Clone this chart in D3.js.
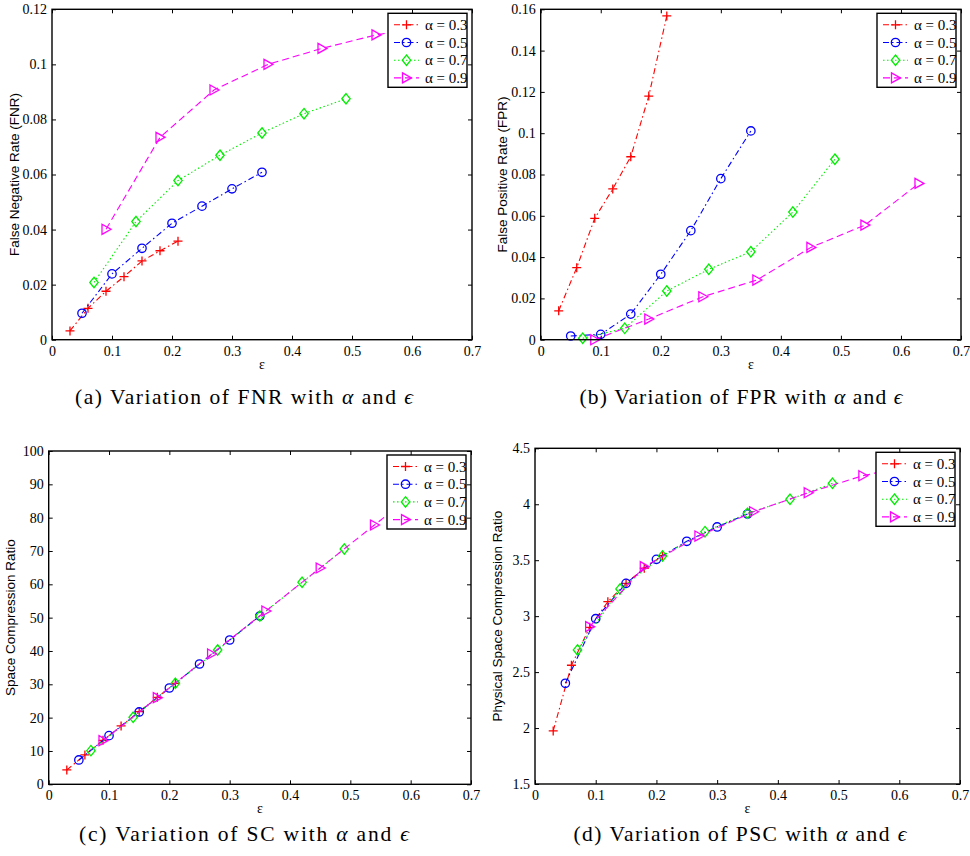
<!DOCTYPE html>
<html>
<head>
<meta charset="utf-8">
<script src="https://cdn.jsdelivr.net/npm/d3@7"></script>
<style>
  html, body { margin: 0; padding: 0; background: #fff; }
  svg { display: block; }
</style>
</head>
<body>
<svg id="fig" width="970" height="856"></svg>
<script>
// ε values sampled for each α setting
const eps03 = [0.03, 0.06, 0.09, 0.12, 0.15, 0.18, 0.21];
const eps05 = [0.05, 0.10, 0.15, 0.20, 0.25, 0.30, 0.35];
const eps07 = [0.07, 0.14, 0.21, 0.28, 0.35, 0.42, 0.49];
const eps09 = [0.09, 0.18, 0.27, 0.36, 0.45, 0.54, 0.63];

// False negative rate
const fnr03 = [0.0032, 0.0114, 0.0176, 0.0229, 0.0286, 0.0323, 0.0358];
const fnr05 = [0.0096, 0.0239, 0.0332, 0.0423, 0.0485, 0.0548, 0.0608];
const fnr07 = [0.0208, 0.0429, 0.0578, 0.0670, 0.0751, 0.0821, 0.0875];
const fnr09 = [0.0401, 0.0735, 0.0907, 0.1000, 0.1058, 0.1107, 0.1140];

// False positive rate
const fpr03 = [0.0140, 0.0349, 0.0588, 0.0730, 0.0886, 0.1180, 0.1568];
const fpr05 = [0.0018, 0.0026, 0.0124, 0.0317, 0.0528, 0.0780, 0.1011];
const fpr07 = [0.0007, 0.0055, 0.0236, 0.0341, 0.0426, 0.0618, 0.0874];
const fpr09 = [0.0000, 0.0100, 0.0208, 0.0289, 0.0447, 0.0555, 0.0757];

// Space compression ratio
const sc03 = [4.3, 8.8, 13.2, 17.5, 21.8, 26.1, 30.3];
const sc05 = [7.3, 14.6, 21.7, 28.9, 36.1, 43.3, 50.5];
const sc07 = [10.1, 20.1, 30.3, 40.3, 50.5, 60.6, 70.6];
const sc09 = [13.1, 26.0, 39.1, 52.0, 64.9, 77.8, 90.7];

// Physical space compression ratio
const psc03 = [1.974, 2.561, 2.900, 3.129, 3.293, 3.428, 3.540];
const psc05 = [2.400, 2.977, 3.293, 3.508, 3.669, 3.797, 3.913];
const psc07 = [2.698, 3.243, 3.538, 3.755, 3.919, 4.044, 4.187];
const psc09 = [2.906, 3.442, 3.716, 3.933, 4.103, 4.255, 4.360];

const seriesLabels = ["α = 0.3", "α = 0.5", "α = 0.7", "α = 0.9"];
const xTicks = [0, 0.1, 0.2, 0.3, 0.4, 0.5, 0.6, 0.7];
const yTicksFNR = [0, 0.02, 0.04, 0.06, 0.08, 0.1, 0.12];
const yTicksFPR = [0, 0.02, 0.04, 0.06, 0.08, 0.1, 0.12, 0.14, 0.16];
const yTicksSC = [0, 10, 20, 30, 40, 50, 60, 70, 80, 90, 100];
const yTicksPSC = [1.5, 2, 2.5, 3, 3.5, 4, 4.5];

// Line / marker style per α
const styles = [
  { color: "#ff0000", dash: "6,3,1.5,3", marker: "plus" },
  { color: "#0000ff", dash: "6,3,1.5,3", marker: "circle" },
  { color: "#00ee00", dash: "1.5,2.5", marker: "diamond" },
  { color: "#ff00ff", dash: "7,4", marker: "triangle" }
];
const epsSets = [eps03, eps05, eps07, eps09];

const panels = [
  { box: [52, 9.3, 472, 339.7], ys: [fnr03, fnr05, fnr07, fnr09], yDomain: [0, 0.12], yTicks: yTicksFNR,
    ylabel: "False Negative Rate (FNR)", caption: ["(a) Variation of FNR with ", "α", " and ", "ϵ"],
    capY: 404, capX: 244, capW: 338 },
  { box: [540.7, 9.3, 961, 339.7], ys: [fpr03, fpr05, fpr07, fpr09], yDomain: [0, 0.16], yTicks: yTicksFPR,
    ylabel: "False Positive Rate (FPR)", caption: ["(b) Variation of FPR with ", "α", " and ", "ϵ"],
    capY: 404, capX: 741, capW: 323 },
  { box: [48.7, 451, 471, 784.3], ys: [sc03, sc05, sc07, sc09], yDomain: [0, 100], yTicks: yTicksSC,
    ylabel: "Space Compression Ratio", caption: ["(c) Variation of SC with ", "α", " and ", "ϵ"],
    capY: 841, capX: 244, capW: 330 },
  { box: [535, 448.3, 960, 784], ys: [psc03, psc05, psc07, psc09], yDomain: [1.5, 4.5], yTicks: yTicksPSC,
    ylabel: "Physical Space Compression Ratio", caption: ["(d) Variation of PSC with ", "α", " and ", "ϵ"],
    capY: 841, capX: 740, capW: 333 }
];

const svg = d3.select("#fig");
const fmt = v => String(+v.toFixed(4));
const serif = "'Liberation Serif', 'Times New Roman', serif";
const sans = "'Liberation Sans', Arial, sans-serif";

function drawMarker(g, type, color) {
  const s = 4.5;
  if (type === "plus") {
    g.append("path").attr("d", `M${-s},0H${s}M0,${-s}V${s}`)
      .attr("stroke", color).attr("stroke-width", 1.3).attr("fill", "none");
  } else if (type === "circle") {
    g.append("circle").attr("r", 4.2)
      .attr("stroke", color).attr("stroke-width", 1.3).attr("fill", "none");
  } else if (type === "diamond") {
    g.append("path").attr("d", `M0,${-5.2}L${4.2},0L0,${5.2}L${-4.2},0Z`)
      .attr("stroke", color).attr("stroke-width", 1.3).attr("fill", "none");
  } else {
    g.append("path").attr("d", `M${-4},${-5}L${5},0L${-4},${5}Z`)
      .attr("stroke", color).attr("stroke-width", 1.3).attr("fill", "none");
  }
}

panels.forEach(p => {
  const [l, t, r, b] = p.box;
  const x = d3.scaleLinear().domain([0, 0.7]).range([l, r]);
  const y = d3.scaleLinear().domain(p.yDomain).range([b, t]);
  const g = svg.append("g");

  // series lines and markers
  p.ys.forEach((vals, i) => {
    const st = styles[i];
    const pts = epsSets[i].map((e, k) => [e, vals[k]]);
    const line = d3.line().x(d => x(d[0])).y(d => y(d[1]));
    g.append("path").datum(pts).attr("d", line)
      .attr("fill", "none").attr("stroke", st.color).attr("stroke-width", 1.1)
      .attr("stroke-dasharray", st.dash);
    pts.forEach(d => {
      const m = g.append("g").attr("transform", `translate(${x(d[0])},${y(d[1])})`);
      drawMarker(m, st.marker, st.color);
    });
  });

  // axes with inward ticks on all four sides
  const tick = 4;
  const axB = d3.axisBottom(x).tickValues(xTicks).tickFormat(fmt).tickSizeInner(-tick).tickSizeOuter(0).tickPadding(6);
  const axT = d3.axisTop(x).tickValues(xTicks).tickFormat("").tickSizeInner(-tick).tickSizeOuter(0);
  const axL = d3.axisLeft(y).tickValues(p.yTicks).tickFormat(fmt).tickSizeInner(-tick).tickSizeOuter(0).tickPadding(5);
  const axR = d3.axisRight(y).tickValues(p.yTicks).tickFormat("").tickSizeInner(-tick).tickSizeOuter(0);

  const axes = [
    g.append("g").attr("transform", `translate(0,${b})`).call(axB),
    g.append("g").attr("transform", `translate(0,${t})`).call(axT),
    g.append("g").attr("transform", `translate(${l},0)`).call(axL),
    g.append("g").attr("transform", `translate(${r},0)`).call(axR)
  ];
  axes.forEach(a => {
    a.select(".domain").remove();
    a.selectAll(".tick line").attr("stroke", "#000").attr("stroke-width", 1);
    a.selectAll(".tick text").attr("fill", "#000")
      .style("font-family", serif).style("font-size", "14px");
  });

  // plot frame
  g.append("rect").attr("x", l).attr("y", t).attr("width", r - l).attr("height", b - t)
    .attr("fill", "none").attr("stroke", "#000").attr("stroke-width", 1.4);

  // axis labels
  g.append("text")
    .attr("transform", `translate(${l - 38},${(t + b) / 2}) rotate(-90)`)
    .attr("text-anchor", "middle").attr("dominant-baseline", "central")
    .style("font-family", sans).style("font-size", "13.5px").text(p.ylabel);
  g.append("text")
    .attr("x", (l + r) / 2).attr("y", b + 29)
    .attr("text-anchor", "middle")
    .style("font-family", serif).style("font-size", "14px").text("ε");

  // legend
  const lx = r - 84, ly = t + 4, lw = 79, lh = 74;
  const leg = g.append("g");
  leg.append("rect").attr("x", lx).attr("y", ly).attr("width", lw).attr("height", lh)
    .attr("fill", "#fff").attr("stroke", "#000").attr("stroke-width", 1.4);
  seriesLabels.forEach((lab, i) => {
    const st = styles[i];
    const yy = ly + 11.5 + i * 17.7;
    leg.append("line").attr("x1", lx + 6).attr("x2", lx + 31).attr("y1", yy).attr("y2", yy)
      .attr("stroke", st.color).attr("stroke-width", 1.1).attr("stroke-dasharray", st.dash);
    drawMarker(leg.append("g").attr("transform", `translate(${lx + 18.5},${yy})`), st.marker, st.color);
    leg.append("text").attr("x", lx + 37).attr("y", yy).attr("dominant-baseline", "central")
      .style("font-family", serif).style("font-size", "15px").text(lab);
  });

  // caption
  const cap = svg.append("text").attr("x", p.capX).attr("y", p.capY).attr("text-anchor", "middle")
    .attr("textLength", p.capW).attr("lengthAdjust", "spacing")
    .style("font-family", serif).style("font-size", "21.5px");
  p.caption.forEach((part, k) => {
    const ts = cap.append("tspan").text(part);
    if (k === 1 || k === 3) ts.style("font-style", "italic");
  });
});
</script>
</body>
</html>
